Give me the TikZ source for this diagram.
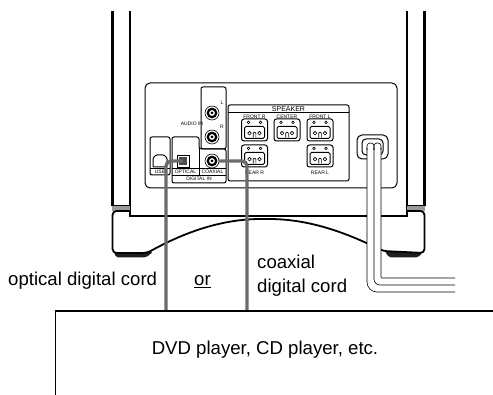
\documentclass[tikz,border=0pt]{standalone}
\usepackage{fontspec}
\setmainfont{Liberation Sans}
\definecolor{cordgray}{HTML}{6B6B6B}
\definecolor{groove}{HTML}{9A9A9A}
\definecolor{footc}{HTML}{1E1E1E}
\begin{document}
\begin{tikzpicture}[x=1pt,y=-1pt,
  outer/.style={line width=2.6pt},
  inner/.style={line width=1.2pt},
  pan/.style={line width=1.0pt},
  fine/.style={line width=0.6pt},
  cord/.style={draw=cordgray,line width=3.4pt,rounded corners=5pt},
  lbl/.style={font=\fontsize{5}{6}\selectfont,inner sep=0pt},
  big/.style={font=\fontsize{18.6}{22}\selectfont,inner sep=0pt},
  rca/.pic={
    \draw[fine,fill=white] (0,0) circle (7);
    \draw[line width=2.2pt] (0,0) circle (4.2);
    \fill (0,0) circle (1.5);
  },
  spkterm/.pic={
    \draw[pan,fill=white,rounded corners=2.5pt] (-13,-11) rectangle (13,11);
    \draw[fine] (-6,-7.6) circle (1.3) (6,-7.6) circle (1.3);
    \draw[pan,rounded corners=1.5pt] (-10,-3.5) rectangle (10,8.5);
    \draw[fine] (-5,3.2) circle (1.8) (5,3.2) circle (1.8);
    \draw[fine,rounded corners=1pt] (-1.3,7.5) -- (-1.3,2.2) -- (1.3,2.2) -- (1.3,7.5);
  },
]
\useasboundingbox (0,0) rectangle (493,395);

% ---- unit body sides ----
\draw[outer] (112.5,11) -- (112.5,206);
\draw[outer] (424.5,11) -- (424.5,206);
\draw[inner] (130,11) -- (130,216) -- (407,216) -- (407,11);

% ---- base ----
\fill[groove] (112,206) rectangle (130,211);
\fill[groove] (407,206) rectangle (425,211);
\draw[pan] (112,206) -- (130,206) (407,206) -- (425,206);
\fill[footc,rounded corners=2pt] (114,252) -- (116,257.5) -- (146,257.5) -- (153,252) -- cycle;
\fill[footc,rounded corners=2pt] (384,250) -- (389,257.5) -- (418,257.5) -- (423,252) -- cycle;
\draw[line width=1.8pt,rounded corners=4pt,fill=white]
  (130,211) -- (112.5,211) -- (112.5,253) -- (147,253)
  .. controls (185,232) and (222,219) .. (265,219)
  .. controls (308,219) and (345,232) .. (383,251)
  -- (424.5,253) -- (424.5,211) -- (407,211);
\draw[inner] (130,211) -- (130,216) -- (407,216) -- (407,211);

% ---- rear panel ----
\draw[pan,rounded corners=5pt] (145,83) rectangle (397,188);

% audio in
\draw[pan,rounded corners=2pt] (201,87) rectangle (226,149);
\pic at (212,113) {rca};
\pic at (212,137) {rca};
\node[lbl] (lL) at (222,103) {L};
\node[lbl] (lR) at (222,127) {R};
\node[lbl] (laudio) at (192,124) {AUDIO IN};

% digital in
\draw[pan,rounded corners=2pt] (172,137) -- (199,137) -- (199,149) -- (226,149) -- (226,183) -- (172,183) -- cycle;
\draw[fine] (199,149) -- (199,175) (172,168) -- (226,168) (172,175) -- (226,175);
\node[draw,fine,fill=white,minimum size=12pt,inner sep=0pt] (opt) at (183,161) {};
\fill[cordgray!70!black] (179,157) rectangle (187,165);
\node[circle,inner sep=0pt,minimum size=14pt] (coax) at (212,161) {};
\pic at (coax.center) {rca};
\node[lbl] (lopt) at (185.5,171.7) {OPTICAL};
\node[lbl] (lcoax) at (212.5,171.7) {COAXIAL};
\node[lbl] (ldig) at (199,179.2) {DIGITAL IN};

% usb
\draw[pan,rounded corners=2pt] (150,137) rectangle (170,175);
\draw[fine] (150,168) -- (170,168);
\draw[pan,rounded corners=1pt] (153,167) -- (153,158) -- (156,155) -- (164,155) -- (167,158) -- (167,167) -- cycle;
\node[lbl] (lusb) at (160,171.7) {USB};

% speaker
\draw[pan,rounded corners=2pt] (228,105) rectangle (349,181);
\draw[fine] (228,112) -- (349,112);
\node[font=\fontsize{7}{8}\selectfont,inner sep=0pt] (lspk) at (288.5,108.7) {SPEAKER};
\pic at (254.5,130) {spkterm};
\pic at (287,130) {spkterm};
\pic at (320,130) {spkterm};
\pic at (254.5,156) {spkterm};
\pic at (320,156) {spkterm};
\node[lbl] (lfr) at (254.5,116.3) {FRONT R};
\node[lbl] (lce) at (287,116.3) {CENTER};
\node[lbl] (lfl) at (320,116.3) {FRONT L};
\node[lbl] (lrr) at (254.5,172.5) {REAR R};
\node[lbl] (lrl) at (320,172.5) {REAR L};

% power outlet
\draw[pan,rounded corners=5pt] (357,135) rectangle (388,159);
\draw[pan,rounded corners=4pt] (362,139) rectangle (383,155);

% ---- power cord ----
\fill[white,rounded corners=3pt] (367,150) -- (367,143) -- (381,143) -- (381,150) -- cycle;
\fill[white] (367,147) -- (367,292) -- (455,292) -- (455,278) -- (381,278) -- (381,147) -- cycle;
\draw[fine,rounded corners=3pt] (367,150) -- (367,143) -- (374,143) -- (374,150);
\draw[fine,rounded corners=3pt] (374,150) -- (374,143) -- (381,143) -- (381,150);
\draw[fine,rounded corners=10pt] (367,148) -- (367,292) -- (455,292);
\draw[fine,rounded corners=6pt] (374,148) -- (374,285) -- (455,285);
\draw[fine,rounded corners=1pt] (381,148) -- (381,278) -- (455,278);

% ---- player and cords ----
\coordinate (optend) at (166,311);
\coordinate (coaxend) at (247,311);
\draw[cord] (opt.center) -| (optend);
\draw[cord] (coax.east) -| (coaxend);
\draw[line width=1.5pt] (493,311) -- (55.5,311) -- (55.5,395);
\node[big,anchor=base] (dvd) at (265,355) {DVD player, CD player, etc.};

\node[big,anchor=base west] (toptical) at (8,286) {optical digital cord};
\node[big,anchor=base west] (tor) at (194,286) {\underline{or}};
\node[big,anchor=base west] (tcoax1) at (257,269) {coaxial};
\node[big,anchor=base west] (tcoax2) at (257,292.5) {digital cord};
\end{tikzpicture}
\end{document}
